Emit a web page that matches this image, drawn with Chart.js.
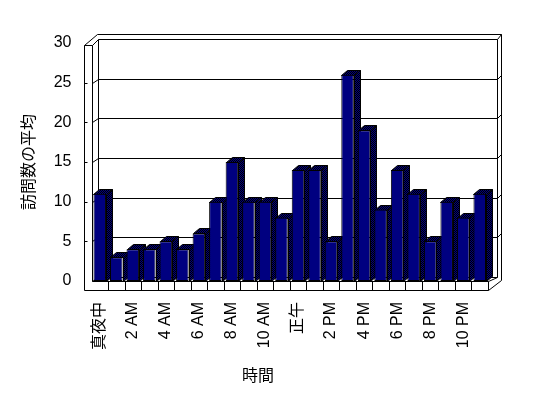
<!DOCTYPE html>
<html>
<head>
<meta charset="UTF-8">
<title>visitsChart</title>
<script src="https://cdn.jsdelivr.net/npm/chart.js"></script>
<style>
  body { margin: 0; background: #fff; }
</style>
</head>
<body>
<canvas id="visitsChart" width="548" height="398"></canvas>
<script>
var hours = ['真夜中', '1 AM', '2 AM', '3 AM', '4 AM', '5 AM', '6 AM', '7 AM', '8 AM', '9 AM', '10 AM', '11 AM',
             '正午', '1 PM', '2 PM', '3 PM', '4 PM', '5 PM', '6 PM', '7 PM', '8 PM', '9 PM', '10 PM', '11 PM'];
var avgVisits = [11, 3, 4, 4, 5, 4, 6, 10, 15, 10, 10, 8, 14, 14, 5, 26, 19, 9, 14, 11, 5, 10, 8, 11];
var yTicks = [0, 5, 10, 15, 20, 25, 30];
var yTitle = '訪問数の平均';
var xTitle = '時間';

var FONT = "'Liberation Sans', 'Noto Sans CJK JP', sans-serif";
var DX = 6, DY = -5;

// dithered navy/black like the old 256 colour fill
function ditherPattern(ctx) {
    var c = document.createElement('canvas');
    c.width = 2; c.height = 2;
    var p = c.getContext('2d');
    p.fillStyle = '#000080';
    p.fillRect(0, 0, 2, 2);
    p.fillStyle = '#000000';
    p.fillRect(0, 0, 1, 1);
    p.fillRect(1, 1, 1, 1);
    return ctx.createPattern(c, 'repeat');
}

function line(ctx, x1, y1, x2, y2) {
    ctx.beginPath();
    ctx.moveTo(x1, y1);
    ctx.lineTo(x2, y2);
    ctx.stroke();
}

var box3d = {
    id: 'box3d',
    beforeDatasetsDraw: function(chart) {
        var ctx = chart.ctx, a = chart.chartArea, ys = chart.scales.y;
        var L = Math.round(a.left) + 0.5, R = Math.round(a.right) + 0.5, B = Math.round(a.bottom) + 0.5;
        var yTop = Math.round(ys.getPixelForValue(30)) + 0.5;
        var bl = L + 6, br = R + 9;
        var backY = function(v) { return Math.round(ys.getPixelForValue(v)) - 4 + 0.5; };
        var outL = L - 8, outT = yTop - 9, outR = R + 13, floorB = B + 9;
        var frontT = yTop + 2;

        ctx.save();
        ctx.strokeStyle = '#000';
        ctx.lineWidth = 1;

        // left wall front + floor front
        ctx.beginPath();
        ctx.moveTo(outL, frontT);
        ctx.lineTo(L, frontT);
        ctx.lineTo(L, B);
        ctx.lineTo(R, B);
        ctx.lineTo(R, floorB);
        ctx.lineTo(outL, floorB);
        ctx.closePath();
        ctx.stroke();

        // top and right edges of the walls
        line(ctx, outL, frontT, bl - 1, outT);
        line(ctx, L, frontT, bl, backY(30));
        line(ctx, bl - 1, outT, outR, outT);
        line(ctx, outR, outT, outR, B - 1);
        line(ctx, outR, B - 1, R, floorB);
        line(ctx, br, backY(30), outR, outT);

        // back wall
        line(ctx, bl, backY(30), bl, backY(0));
        line(ctx, br, backY(30), br, backY(0));
        line(ctx, L, B, bl, backY(0));
        line(ctx, R, B, br, backY(0));

        yTicks.forEach(function(v) {
            var by = backY(v);
            line(ctx, bl, by, br, by);
            if (v > 0 && v < 30) {
                var fy = Math.round(ys.getPixelForValue(v)) + 0.5;
                line(ctx, L, fy, bl, by);
                line(ctx, outL, fy, outL + 3, fy);
                line(ctx, br, by, outR, by - 4);
            }
        });

        // category cells on the floor front
        var step = (a.right - a.left) / hours.length;
        for (var i = 1; i < hours.length; i++) {
            var x = Math.round(a.left + i * step) + 0.5;
            line(ctx, x, B, x, floorB);
        }

        // bar sides and tops, left to right
        var pat = ditherPattern(ctx);
        var meta = chart.getDatasetMeta(0);
        meta.data.forEach(function(bar) {
            var p = bar.getProps(['x', 'y', 'base', 'width'], true);
            var x0 = Math.round(p.x - p.width / 2) + 0.5, x1 = Math.round(p.x + p.width / 2) + 0.5;
            var y0 = Math.round(p.y) + 0.5, yb = Math.round(p.base) + 0.5;
            ctx.fillStyle = pat;
            ctx.beginPath();
            ctx.moveTo(x1, y0);
            ctx.lineTo(x1 + DX, y0 + DY);
            ctx.lineTo(x1 + DX, yb + DY);
            ctx.lineTo(x1, yb);
            ctx.closePath();
            ctx.fill();
            ctx.stroke();
            ctx.beginPath();
            ctx.moveTo(x0, y0);
            ctx.lineTo(x0 + DX, y0 + DY);
            ctx.lineTo(x1 + DX, y0 + DY);
            ctx.lineTo(x1, y0);
            ctx.closePath();
            ctx.fill();
            ctx.stroke();
        });
        ctx.restore();
    },
    afterDraw: function(chart) {
        var ctx = chart.ctx;
        ctx.save();
        ctx.fillStyle = '#000';
        ctx.font = '16px ' + FONT;
        ctx.textAlign = 'center';
        ctx.textBaseline = 'middle';
        ctx.fillText(xTitle, 258, 377);
        ctx.restore();
    }
};

var ctx = document.getElementById('visitsChart').getContext('2d');
var visitsChart = new Chart(ctx, {
    type: 'bar',
    data: {
        labels: hours,
        datasets: [{
            data: avgVisits,
            backgroundColor: '#000080',
            borderColor: '#000000',
            borderWidth: 1,
            borderSkipped: false,
            categoryPercentage: 1,
            barPercentage: 0.76
        }]
    },
    options: {
        responsive: false,
        animation: false,
        layout: { padding: { top: 43, right: 60, left: 0, bottom: 0 } },
        plugins: {
            legend: { display: false },
            tooltip: { enabled: false }
        },
        scales: {
            x: {
                grid: { display: false, drawTicks: false },
                border: { display: false },
                ticks: {
                    autoSkip: false,
                    minRotation: 90,
                    maxRotation: 90,
                    padding: 21,
                    color: '#000',
                    font: { size: 16, family: FONT },
                    callback: function(val, i) { return i % 2 === 0 ? hours[i] : ''; }
                },
                afterFit: function(s) { s.height = 117; }
            },
            y: {
                min: 0,
                max: 30,
                grid: { display: false, drawTicks: false },
                border: { display: false },
                ticks: {
                    stepSize: 5,
                    padding: 20,
                    color: '#000',
                    font: { size: 16, family: FONT }
                },
                title: {
                    display: true,
                    text: yTitle,
                    color: '#000',
                    font: { size: 16, family: FONT },
                    padding: { top: 20, bottom: 0 }
                },
                afterFit: function(s) { s.width = 91.5; }
            }
        }
    },
    plugins: [box3d]
});
</script>
</body>
</html>
